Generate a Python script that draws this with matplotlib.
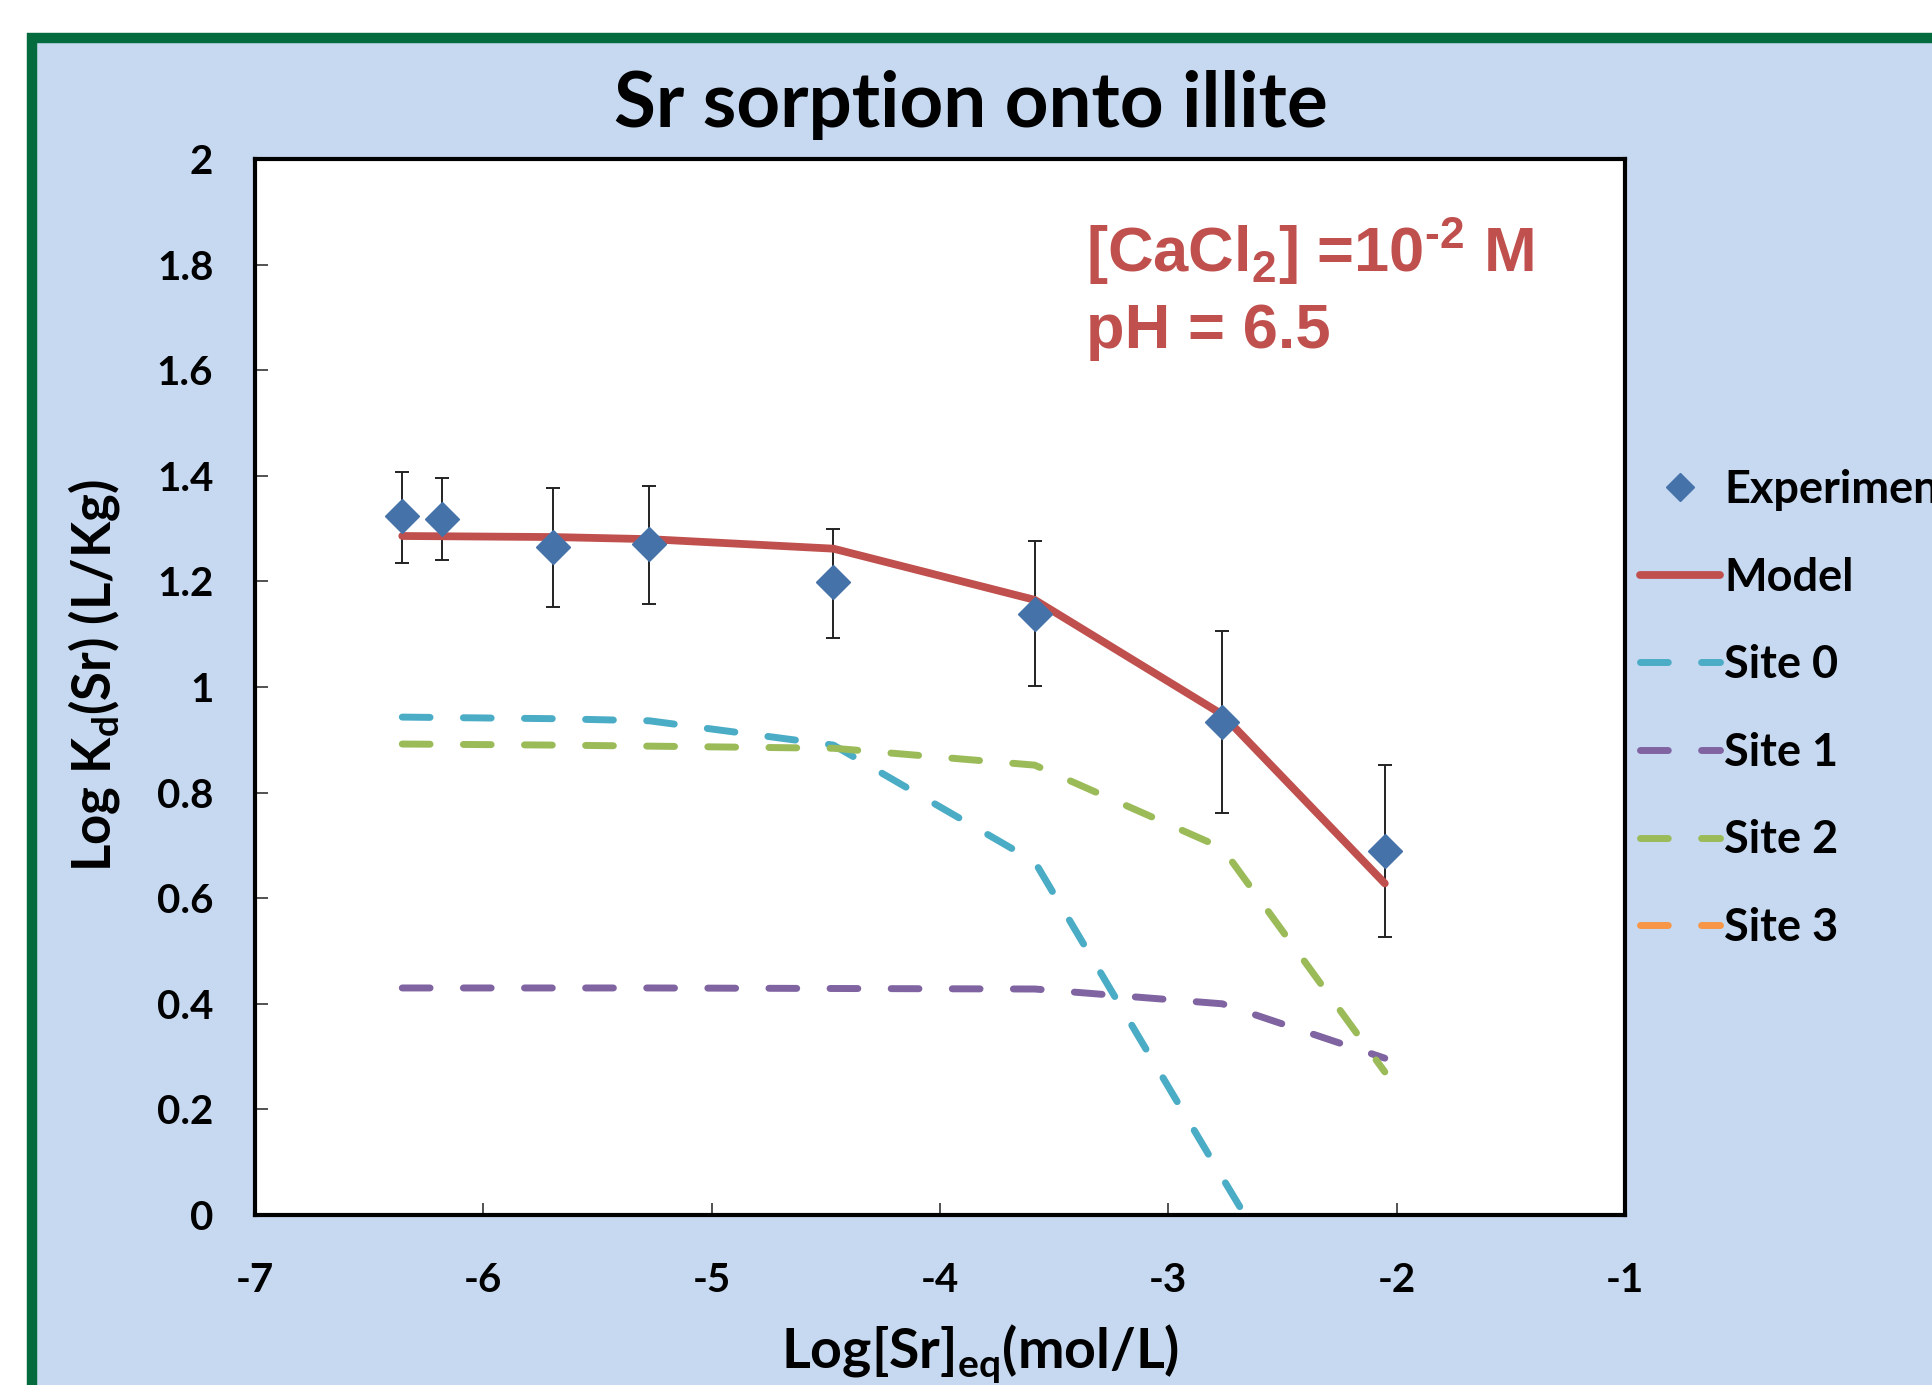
import matplotlib
matplotlib.use("Agg")
import matplotlib.pyplot as plt
from matplotlib.patches import Rectangle
from matplotlib.ticker import FixedLocator, FuncFormatter

# ---------------- data ----------------
exp_x = [-6.355, -6.182, -5.693, -5.273, -4.467, -3.585, -2.764, -2.052]
exp_y = [1.324, 1.319, 1.266, 1.271, 1.198, 1.139, 0.933, 0.690]
exp_err_plus = [0.084, 0.076, 0.110, 0.110, 0.101, 0.138, 0.173, 0.162]
exp_err_minus = [0.090, 0.078, 0.114, 0.114, 0.105, 0.137, 0.172, 0.164]

model_x = [-6.355, -5.693, -5.273, -4.467, -3.585, -2.764, -2.052]
model_y = [1.286, 1.284, 1.280, 1.262, 1.165, 0.948, 0.628]
site0_y = [0.943, 0.940, 0.936, 0.890, 0.669, 0.071, -0.44]
site1_y = [0.430, 0.430, 0.430, 0.429, 0.428, 0.400, 0.297]
site2_y = [0.892, 0.890, 0.888, 0.884, 0.852, 0.695, 0.271]
site3_y = []  # not visible in the plotted range

x_ticks = [-7, -6, -5, -4, -3, -2, -1]
y_ticks = [0, 0.2, 0.4, 0.6, 0.8, 1.0, 1.2, 1.4, 1.6, 1.8, 2.0]

title = "Sr sorption onto illite"
xlabel = r"Log[Sr]$_{\mathregular{eq}}$(mol/L)"
ylabel = r"Log K$_{\mathregular{d}}$(Sr) (L/Kg)"
note1 = "[CaCl$_{\\mathregular{2}}$] =10$^{\\mathregular{\u20102}}$ M"
note2 = "pH = 6.5"

# ---------------- style ----------------
W, H = 1933, 1385
plt.rcParams['font.family'] = ['Lato', 'DejaVu Sans']
plt.rcParams['font.weight'] = 'bold'
plt.rcParams['axes.unicode_minus'] = False

C_BG = '#C6D9F1'
C_GREEN_BORDER = '#046B3E'
C_DIAMOND = '#4672AA'
C_MODEL = '#C0504D'
C_S0 = '#4BACC6'
C_S1 = '#8064A2'
C_S2 = '#9BBB59'
C_S3 = '#F79646'
C_NOTE = '#C0504D'

fig = plt.figure(figsize=(W / 100, H / 100), dpi=100)
fig.patch.set_facecolor('white')

border = Rectangle((32 / W, -0.05), 1.1, 1.05 - 38 / H,
                   transform=fig.transFigure, facecolor=C_BG,
                   edgecolor=C_GREEN_BORDER, linewidth=7.5, zorder=-5)
fig.patches.append(border)

ax = fig.add_axes([255 / W, 1 - 1215 / H, (1625 - 255) / W, (1215 - 159) / H])
ax.set_facecolor('white')
ax.set_xlim(-7, -1)
ax.set_ylim(0, 2)

dash = (4.0, 4.8)
lw_d = 5.0

ax.errorbar(exp_x, exp_y, yerr=[exp_err_minus, exp_err_plus], fmt='none',
            ecolor='#222222', elinewidth=1.4, capsize=4.8, capthick=1.4,
            zorder=2)
l_s0, = ax.plot(model_x, site0_y, color=C_S0, lw=lw_d, dashes=dash,
                dash_capstyle='round', label='Site 0', zorder=3)
l_s1, = ax.plot(model_x, site1_y, color=C_S1, lw=lw_d, dashes=dash,
                dash_capstyle='round', label='Site 1', zorder=3.1)
l_s2, = ax.plot(model_x, site2_y, color=C_S2, lw=lw_d, dashes=dash,
                dash_capstyle='round', label='Site 2', zorder=3.2)
l_s3, = ax.plot(model_x[:len(site3_y)], site3_y, color=C_S3, lw=lw_d,
                dashes=dash, dash_capstyle='round', label='Site 3', zorder=3.3)
l_m, = ax.plot(model_x, model_y, color=C_MODEL, lw=5.6, solid_capstyle='round',
               label='Model', zorder=4)
l_e, = ax.plot(exp_x, exp_y, ls='none', marker='D', ms=17.5, color=C_DIAMOND,
               markeredgecolor=C_DIAMOND, label='Experiment', zorder=5)

for s in ax.spines.values():
    s.set_linewidth(3)
    s.set_color('black')
ax.xaxis.set_major_locator(FixedLocator(x_ticks))
ax.yaxis.set_major_locator(FixedLocator(y_ticks))
ax.yaxis.set_major_formatter(FuncFormatter(lambda v, p: f"{v:g}"))
ax.xaxis.set_major_formatter(FuncFormatter(lambda v, p: f"{v:g}"))
ax.tick_params(axis='both', direction='in', length=9, width=1.2,
               color='#333333', labelsize=29)
ax.tick_params(axis='y', pad=30)
ax.tick_params(axis='x', pad=34)
for t in ax.get_xticklabels() + ax.get_yticklabels():
    t.set_fontweight('bold')

fig.text(971 / W, 1 - 127 / H, title, ha='center', va='baseline',
         fontsize=55, fontweight='bold')
fig.text(980 / W, 1 - 1368 / H, xlabel, ha='center', va='baseline',
         fontsize=40, fontweight='bold')
fig.text(111 / W, 1 - 676 / H, ylabel, ha='center', va='baseline',
         rotation=90, rotation_mode='anchor', fontsize=38, fontweight='bold')

fig.text(1086 / W, 1 - 272 / H, note1, ha='left', va='baseline', fontsize=45.5,
         fontweight='bold', color=C_NOTE, family=['Liberation Sans', 'DejaVu Sans'])
fig.text(1086 / W, 1 - 348 / H, note2, ha='left', va='baseline', fontsize=45.5,
         fontweight='bold', color=C_NOTE, family=['Liberation Sans', 'DejaVu Sans'])

leg = fig.legend(handles=[l_e, l_m, l_s0, l_s1, l_s2, l_s3],
                 loc='upper left', bbox_to_anchor=(1640 / W, 1 - 469 / H),
                 frameon=False, fontsize=32.5, handlelength=1.78,
                 handletextpad=0.08, labelspacing=1.01, borderpad=0,
                 borderaxespad=0, numpoints=1, markerscale=0.8)
for t in leg.get_texts():
    t.set_fontweight('bold')

fig.savefig('out.png', dpi=100, facecolor=fig.get_facecolor())
